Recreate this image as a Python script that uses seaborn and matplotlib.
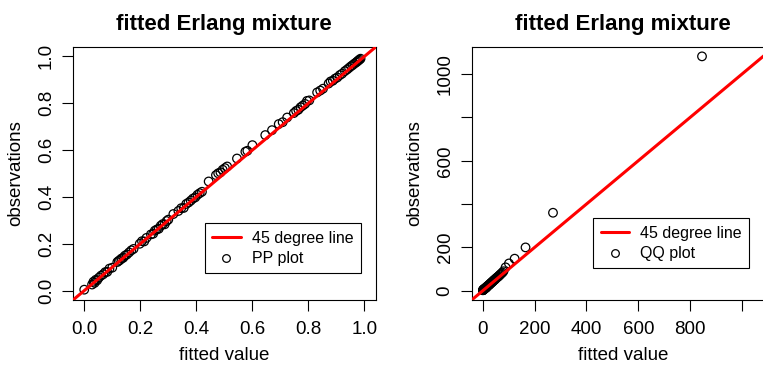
import seaborn as sns
import matplotlib
matplotlib.use("Agg")
import matplotlib.pyplot as plt
from matplotlib.lines import Line2D

pp_fitted = [
    0.000, 0.028, 0.033, 0.037, 0.041, 0.046, 0.052, 0.060, 0.068, 0.075, 0.082, 0.090, 0.100,
    0.118, 0.123, 0.128, 0.133, 0.139, 0.145, 0.152, 0.160, 0.168, 0.176,
    0.198, 0.206, 0.214, 0.222, 0.238, 0.246, 0.252, 0.259, 0.266, 0.273, 0.280, 0.287, 0.294, 0.300,
    0.318, 0.336, 0.346, 0.355, 0.364, 0.372, 0.380, 0.388, 0.396, 0.404, 0.412, 0.420,
    0.444, 0.470, 0.478, 0.486, 0.494, 0.502, 0.510,
    0.545, 0.575, 0.582, 0.600, 0.646, 0.670, 0.694, 0.708, 0.724,
    0.748, 0.756, 0.764, 0.772, 0.780, 0.788, 0.795, 0.803,
    0.831, 0.842, 0.852, 0.872, 0.879, 0.887, 0.895, 0.903, 0.912, 0.920,
    0.930, 0.938, 0.945, 0.952, 0.958, 0.964, 0.970, 0.974, 0.978, 0.982, 0.986,
]
pp_observed = [
    0.004, 0.026, 0.038, 0.033, 0.046, 0.044, 0.055, 0.064, 0.070, 0.079, 0.080, 0.094, 0.098,
    0.122, 0.127, 0.131, 0.137, 0.140, 0.149, 0.154, 0.163, 0.172, 0.178,
    0.200, 0.211, 0.210, 0.225, 0.240, 0.243, 0.256, 0.261, 0.264, 0.277, 0.284, 0.283, 0.297, 0.303,
    0.327, 0.340, 0.352, 0.353, 0.370, 0.376, 0.384, 0.393, 0.398, 0.409, 0.416, 0.422,
    0.466, 0.493, 0.501, 0.505, 0.516, 0.523, 0.530,
    0.564, 0.593, 0.597, 0.621, 0.664, 0.685, 0.711, 0.719, 0.739,
    0.758, 0.767, 0.772, 0.783, 0.790, 0.797, 0.810, 0.812,
    0.846, 0.854, 0.862, 0.884, 0.893, 0.896, 0.905, 0.910, 0.920, 0.926,
    0.937, 0.944, 0.951, 0.958, 0.963, 0.969, 0.974, 0.978, 0.982, 0.986, 0.990,
]

# QQ plot: fitted quantiles vs observed quantiles
qq_fitted = [
    0.5, 1, 1.5, 2, 3, 4, 5, 6, 7, 8, 9, 10, 11, 12, 13, 14, 15, 16, 18, 20,
    22, 24, 26, 28, 30, 32, 34, 36, 38, 40, 42, 44, 46, 48, 50, 53, 56, 59, 62, 65,
    68, 72, 76, 80, 88, 101, 123, 165, 271, 846,
]
qq_observed = [
    2, 3, 3, 4, 5, 6, 7, 8, 9, 10, 11, 12, 13, 14, 15, 16, 17, 19, 21, 23,
    25, 27, 29, 31, 34, 36, 38, 40, 42, 45, 47, 49, 51, 53, 56, 59, 62, 65, 68, 72,
    75, 80, 84, 90, 108, 126, 148, 200, 360, 1082,
]

pp_ticks = [0.0, 0.2, 0.4, 0.6, 0.8, 1.0]
qq_xticks = [0, 200, 400, 600, 800, 1000]
qq_xlabels = ["0", "200", "400", "600", "800", ""]
qq_yticks = [0, 200, 400, 600, 800, 1000]
qq_ylabels = ["0", "200", "", "600", "", "1000"]

sns.set_style("white")
plt.rcParams["font.family"] = ["Liberation Sans", "DejaVu Sans"]
plt.rcParams["text.color"] = "black"
plt.rcParams["axes.labelcolor"] = "black"

fig = plt.figure(figsize=(7.63, 3.68), dpi=100)
ax1 = fig.add_axes([0.0957, 0.1848, 0.3967, 0.6875])
ax2 = fig.add_axes([0.6182, 0.1848, 0.3967, 0.6875])


def r_range(lo, hi):
    pad = 0.04 * (hi - lo)
    return lo - pad, hi + pad


def style_axes(ax, label):
    for sp in ax.spines.values():
        sp.set_color("black")
        sp.set_linewidth(0.8)
    ax.tick_params(direction="out", length=8, width=0.8, color="black",
                   labelsize=13.5, labelcolor="black", bottom=True, left=True)
    ax.tick_params(axis="x", pad=7)
    ax.tick_params(axis="y", pad=5)
    plt.setp(ax.get_yticklabels(), rotation=90, va="center")
    ax.set_title("fitted Erlang mixture", fontsize=16, fontweight="bold", pad=12, color="black")
    ax.set_xlabel("fitted value", fontsize=13.5)
    ax.set_ylabel("observations", fontsize=13.5)
    ax.xaxis.set_label_coords(0.5, -0.185)
    ax.yaxis.set_label_coords(-0.16, 0.5)
    handles = [
        Line2D([], [], color="red", lw=2.2),
        Line2D([], [], color="black", marker="o", ls="none", mfc="none", ms=5.5, mew=0.9),
    ]
    return handles, ["45 degree line", label]


def add_legend(ax, handles, labels, anchor):
    leg = ax.legend(handles, labels, loc="lower right", bbox_to_anchor=anchor, fontsize=11.5,
                    frameon=True, fancybox=False, framealpha=1, edgecolor="black",
                    borderpad=0.45, handlelength=1.8, handletextpad=0.7, labelspacing=0.35,
                    borderaxespad=0)
    leg.get_frame().set_linewidth(0.8)


# ---- left: PP plot ----
sns.scatterplot(x=pp_fitted, y=pp_observed, ax=ax1, marker="o", s=38,
                facecolors="none", edgecolor="black", linewidth=0.9, zorder=3)
ax1.axline((0, 0), slope=1, color="red", lw=2.2, zorder=4)
ax1.set_xlim(r_range(0, 1))
ax1.set_ylim(r_range(0, 1))
ax1.set_xticks(pp_ticks)
ax1.set_yticks(pp_ticks)
ax1.set_xticklabels([f"{t:.1f}" for t in pp_ticks])
ax1.set_yticklabels([f"{t:.1f}" for t in pp_ticks])
h, l = style_axes(ax1, "PP plot")
add_legend(ax1, h, l, (0.95, 0.105))

# ---- right: QQ plot ----
sns.scatterplot(x=qq_fitted, y=qq_observed, ax=ax2, marker="o", s=38,
                facecolors="none", edgecolor="black", linewidth=0.9, zorder=3)
ax2.axline((0, 0), slope=1, color="red", lw=2.2, zorder=4)
lo = min(min(qq_fitted), min(qq_observed))
hi = max(max(qq_fitted), max(qq_observed))
ax2.set_xlim(r_range(lo, hi))
ax2.set_ylim(r_range(lo, hi))
ax2.set_xticks(qq_xticks)
ax2.set_yticks(qq_yticks)
ax2.set_xticklabels(qq_xlabels)
ax2.set_yticklabels(qq_ylabels)
h, l = style_axes(ax2, "QQ plot")
add_legend(ax2, h, l, (0.917, 0.125))

fig.savefig("out.png", dpi=100)
